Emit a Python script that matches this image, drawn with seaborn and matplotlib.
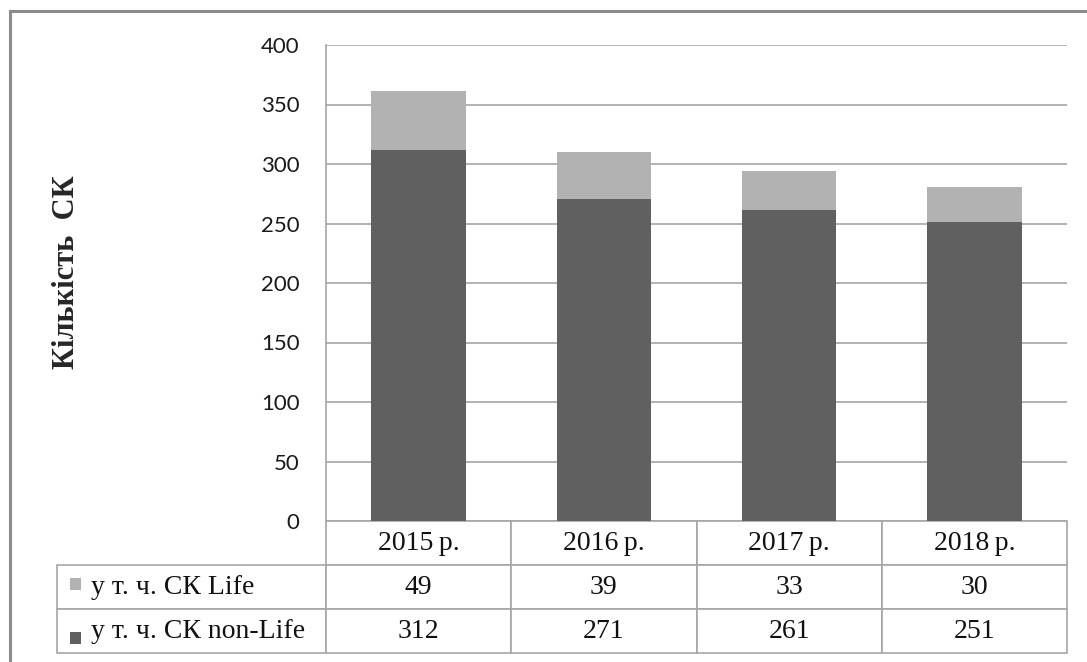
import matplotlib
matplotlib.use("Agg")
import matplotlib.pyplot as plt
import seaborn as sns
import pandas as pd
from matplotlib.patches import Rectangle

#%% Data
years = ["2015\u2009р.", "2016\u2009р.", "2017\u2009р.", "2018\u2009р."]
life = [49, 39, 33, 30]
non_life = [312, 271, 261, 251]
series_names = ["у т. ч. СК Life", "у т. ч. СК non-Life"]
yticks = [0, 50, 100, 150, 200, 250, 300, 350, 400]

df = pd.DataFrame({"year": years, "life": life, "non_life": non_life})
df["total"] = df["life"] + df["non_life"]

c_life = "#b2b2b2"
c_non = "#606060"
c_grid = "#a6a6a6"

sns.set_style("white")
plt.rcParams["font.family"] = ["Lato", "DejaVu Sans"]

W, H = 1087, 662
fig = plt.figure(figsize=(W / 100, H / 100), dpi=100)
ax = fig.add_axes([326 / W, 1 - 521 / H, 741 / W, 476 / H])

#%% Stacked bars: total (light) behind non-life (dark)
sns.barplot(data=df, x="year", y="total", color=c_life, width=0.51,
            saturation=1, linewidth=0, ax=ax, zorder=2)
sns.barplot(data=df, x="year", y="non_life", color=c_non, width=0.51,
            saturation=1, linewidth=0, ax=ax, zorder=3)

ax.set_ylim(0, 400)
ax.set_xlim(-0.5, 3.5)
ax.set_yticks(yticks)
ax.set_yticklabels([str(v) for v in yticks], fontsize=16, color="#1a1a1a")
ax.tick_params(axis="y", length=0, pad=19)
ax.set_xticks([])
ax.set_xlabel("")
ax.set_ylabel("")
ax.yaxis.grid(True, color=c_grid, lw=1.2, zorder=0)
ax.set_axisbelow(True)
for s in ["top", "right", "bottom"]:
    ax.spines[s].set_visible(False)
ax.spines["left"].set_color(c_grid)
ax.spines["left"].set_linewidth(1.2)

#%% Data table under the axes
cell_text = [[""] + years,
             [series_names[0]] + [str(v) for v in life],
             [series_names[1]] + [str(v) for v in non_life]]
first_w = 269 / 1010
other_w = 185.25 / 1010
tbl = ax.table(cellText=cell_text, cellLoc="center",
               colWidths=[first_w] + [other_w] * 4,
               bbox=[-269 / 741, -132 / 476, 1010 / 741, 132 / 476])
tbl.auto_set_font_size(False)
tbl.set_fontsize(20)
for (r, c), cell in tbl.get_celld().items():
    cell.set_edgecolor(c_grid)
    cell.set_linewidth(1.2)
    cell.get_text().set_fontfamily(["Liberation Serif", "DejaVu Serif"])
    cell.get_text().set_color("#111111")
    if c == 0:
        cell.get_text().set_horizontalalignment("left")
        cell.PAD = 34 / 269
    if r == 0 and c == 0:
        cell.visible_edges = ""

# legend keys in the row labels
for yc, col in [(584, c_life), (638, c_non)]:
    fig.patches.append(Rectangle((70 / W, 1 - (yc + 6) / H), 11 / W, 12 / H,
                                 transform=fig.transFigure, color=col,
                                 lw=0, zorder=5))

#%% Axis title
fig.text(66 / W, 1 - 272 / H, "Кількість  СК", rotation=90, ha="center",
         va="center", fontsize=22, fontweight="bold",
         family=["Liberation Serif", "DejaVu Serif"])

#%% Outer frame
fig.patches.append(Rectangle((10 / W, -0.05), 1.2, 1 - 11 / H + 0.05,
                             transform=fig.transFigure, fill=False,
                             edgecolor="#8c8c8c", lw=2.2, zorder=10))

fig.savefig("out.png", dpi=100)
